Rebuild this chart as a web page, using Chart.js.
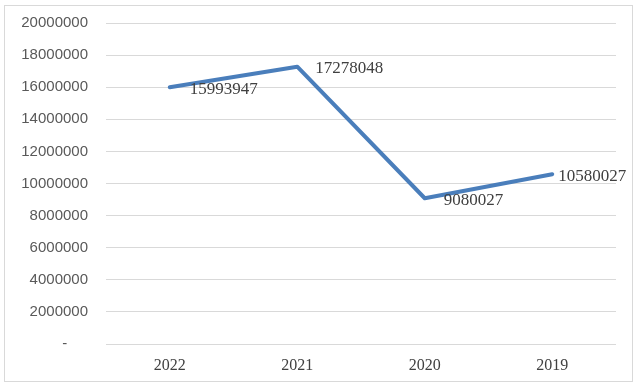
<!DOCTYPE html>
<html>
<head>
<meta charset="utf-8">
<script src="https://cdn.jsdelivr.net/npm/chart.js@4"></script>
<style>
  html, body { margin: 0; padding: 0; background: #fff; }
  #wrap { width: 640px; height: 389px; position: relative; }
</style>
</head>
<body>
<div id="wrap"><canvas id="chart" width="640" height="389"></canvas></div>
<script>
const years = ["2022", "2021", "2020", "2019"];
const amounts = [15993947, 17278048, 9080027, 10580027];
const yTicks = [0, 2000000, 4000000, 6000000, 8000000, 10000000, 12000000, 14000000, 16000000, 18000000, 20000000];

// frame around the whole chart, like the spreadsheet chart border
const framePlugin = {
  id: "frame",
  beforeDraw(chart) {
    const ctx = chart.ctx;
    ctx.save();
    ctx.fillStyle = "#fff";
    ctx.fillRect(0, 0, chart.width, chart.height);
    ctx.strokeStyle = "#d9d9d9";
    ctx.lineWidth = 1;
    ctx.strokeRect(4.5, 5.5, 628, 376);
    ctx.restore();
  },
};

// value labels to the right of each point
const labelPlugin = {
  id: "valueLabels",
  afterDatasetsDraw(chart, args, opts) {
    const ctx = chart.ctx;
    const meta = chart.getDatasetMeta(0);
    ctx.save();
    ctx.font = "17px 'Liberation Serif'";
    ctx.fillStyle = "#404040";
    ctx.textAlign = "left";
    ctx.textBaseline = "middle";
    meta.data.forEach((pt, i) => {
      const dx = opts.dx[i] ?? 18;
      ctx.fillText(String(amounts[i]), pt.x + dx, pt.y + 2);
    });
    ctx.restore();
  },
};

new Chart(document.getElementById("chart"), {
  type: "line",
  data: {
    labels: years,
    datasets: [
      {
        data: amounts,
        borderColor: "#4a7ebb",
        borderWidth: 4,
        pointRadius: 0,
        tension: 0,
        borderCapStyle: "round",
        borderJoinStyle: "round",
      },
    ],
  },
  options: {
    responsive: false,
    animation: false,
    layout: { padding: { top: 23, right: 24, left: 0, bottom: 0 } },
    plugins: {
      legend: { display: false },
      tooltip: { enabled: false },
      valueLabels: { dx: [20, 18, 19, 6] },
    },
    scales: {
      x: {
        offset: true,
        grid: { display: false, drawTicks: false },
        border: { display: false },
        ticks: {
          padding: 12,
          color: "#404040",
          font: { family: "'Liberation Serif'", size: 16 },
        },
        afterFit: (s) => { s.height = 45; },
      },
      y: {
        min: 0,
        max: 20000000,
        afterBuildTicks: (s) => { s.ticks = yTicks.map((v) => ({ value: v })); },
        grid: { color: "#d9d9d9", lineWidth: 1, drawTicks: false },
        border: { display: false },
        ticks: {
          padding: 18,
          color: "#595959",
          font: { family: "'Liberation Sans'", size: 15 },
          callback: (v) => (v === 0 ? "-     " : String(v)),
        },
        afterFit: (s) => {
          s.width = 106;
          s.paddingTop = 0;
          s.paddingBottom = 0;
        },
      },
    },
  },
  plugins: [framePlugin, labelPlugin],
});
</script>
</body>
</html>
